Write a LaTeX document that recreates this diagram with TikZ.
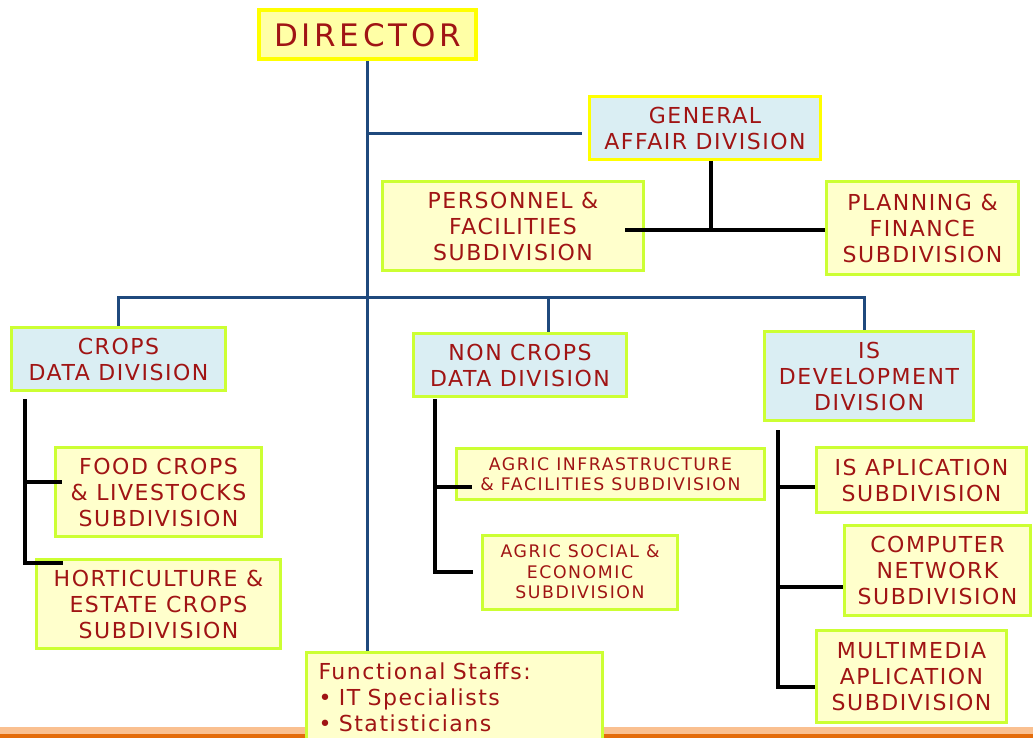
\documentclass[tikz,border=0pt]{standalone}
\usepackage{fontspec}
\setmainfont{DejaVu Sans}[LetterSpace=7]
\usepackage{xcolor}
\definecolor{darkred}{RGB}{160,20,20}
\definecolor{paleblue}{RGB}{218,238,243}
\definecolor{paleyellow}{RGB}{255,255,204}
\definecolor{directorfill}{RGB}{255,255,166}
\definecolor{yellowline}{RGB}{255,255,0}
\definecolor{limeline}{RGB}{204,255,51}
\definecolor{navyline}{RGB}{31,73,125}
\definecolor{bandlight}{RGB}{250,192,144}
\definecolor{banddark}{RGB}{228,108,10}

\begin{document}
\begin{tikzpicture}[x=1pt,y=-1pt,
	box/.style={draw=limeline, line width=3pt, fill=paleyellow, text=darkred, align=center, inner sep=0pt, font=\fontsize{22}{26}\selectfont},
	divbox/.style={box, fill=paleblue},
	smallbox/.style={box, font=\fontsize{17.3}{20.5}\selectfont\addfontfeatures{LetterSpace=9}},
	blueline/.style={draw=navyline, line width=3pt},
	blackline/.style={draw=black, line width=4pt}]
	\useasboundingbox (0,0) rectangle (1033,738);
	\clip (0,0) rectangle (1033,738);

	\fill [bandlight] (0,727) rectangle (1033,734);
	\fill [banddark] (0,734) rectangle (1033,738);

	\node [box, draw=yellowline, fill=directorfill, line width=4pt, minimum width=217pt, minimum height=49pt, font=\fontsize{31}{36}\selectfont\addfontfeatures{LetterSpace=12}] (director) at (367.5,35) {DIRECTOR};

	\node [divbox, draw=yellowline, minimum width=231pt, minimum height=63pt] (general) at (705,128) {GENERAL\\AFFAIR DIVISION};
	\node [box, minimum width=261pt, minimum height=89pt] (personnel) at (513,226) {PERSONNEL \&\\FACILITIES\\SUBDIVISION};
	\node [box, minimum width=192pt, minimum height=93pt] (planning) at (922.5,228) {PLANNING \&\\FINANCE\\SUBDIVISION};

	\node [divbox, minimum width=214pt, minimum height=63pt] (crops) at (118.5,359) {CROPS\\DATA DIVISION};
	\node [divbox, minimum width=213pt, minimum height=63pt] (noncrops) at (520,365) {NON CROPS\\DATA DIVISION};
	\node [divbox, minimum width=209pt, minimum height=89pt] (isdev) at (869,376) {IS\\DEVELOPMENT\\DIVISION};

	\node [box, minimum width=206pt, minimum height=89pt] (food) at (158.5,492) {FOOD CROPS\\\& LIVESTOCKS\\SUBDIVISION};
	\node [box, minimum width=244pt, minimum height=89pt] (horti) at (158.5,604) {HORTICULTURE \&\\ESTATE CROPS\\SUBDIVISION};

	\node [smallbox, minimum width=308pt, minimum height=51pt] (infra) at (610.5,474) {AGRIC INFRASTRUCTURE\\\& FACILITIES SUBDIVISION};
	\node [smallbox, minimum width=195pt, minimum height=74pt] (social) at (580,572) {AGRIC SOCIAL \&\\ECONOMIC\\SUBDIVISION};

	\node [box, minimum width=210pt, minimum height=65pt] (isapp) at (921.5,480) {IS APLICATION\\SUBDIVISION};
	\node [box, minimum width=186pt, minimum height=90pt] (network) at (937.5,570) {COMPUTER\\NETWORK\\SUBDIVISION};
	\node [box, minimum width=190pt, minimum height=92pt] (multimedia) at (911.5,676.5) {MULTIMEDIA\\APLICATION\\SUBDIVISION};

	\node [box, align=left, text width=272pt, minimum width=296pt, minimum height=90pt] (staffs) at (454.5,697) {Functional Staffs:\\\textbullet{} IT Specialists\\\textbullet{} Statisticians};

	\coordinate (ga) at (582,134);
	\coordinate (bus) at (0,297);
	\coordinate (nd) at (548,0);
	\coordinate (id) at (864,0);
	\draw [blueline] (director.south) -- (director.south |- staffs.north);
	\draw [blueline] (director.south |- ga) -- (ga);
	\draw [blueline] (crops.north) -- (crops.north |- bus) -- (id |- bus) -- (id |- isdev.north);
	\draw [blueline] (nd |- bus) -- (nd |- noncrops.north);

	\coordinate (gv) at (711,230);
	\coordinate (pf) at (625,230);
	\draw [blackline] (gv |- general.south) -- (gv);
	\draw [blackline] (pf) -- (planning.west |- pf);

	\coordinate (ct) at (25,399);
	\coordinate (c1) at (25,482);
	\coordinate (c2) at (25,563);
	\draw [blackline] (ct) -- (c2) -- ([xshift=28pt]c2 -| horti.west);
	\draw [blackline] (c1) -- ([xshift=8pt]c1 -| food.west);

	\coordinate (nt) at (435,399);
	\coordinate (n1) at (435,487);
	\coordinate (n2) at (435,572);
	\draw [blackline] (nt) -- (n2) -- ([xshift=-8pt]n2 -| social.west);
	\draw [blackline] (n1) -- ([xshift=17pt]n1 -| infra.west);

	\coordinate (it) at (778,430);
	\coordinate (i1) at (778,487);
	\coordinate (i2) at (778,587);
	\coordinate (i3) at (778,687);
	\draw [blackline] (it) -- (i3) -- (i3 -| multimedia.west);
	\draw [blackline] (i1) -- (i1 -| isapp.west);
	\draw [blackline] (i2) -- (i2 -| network.west);
\end{tikzpicture}
\end{document}
